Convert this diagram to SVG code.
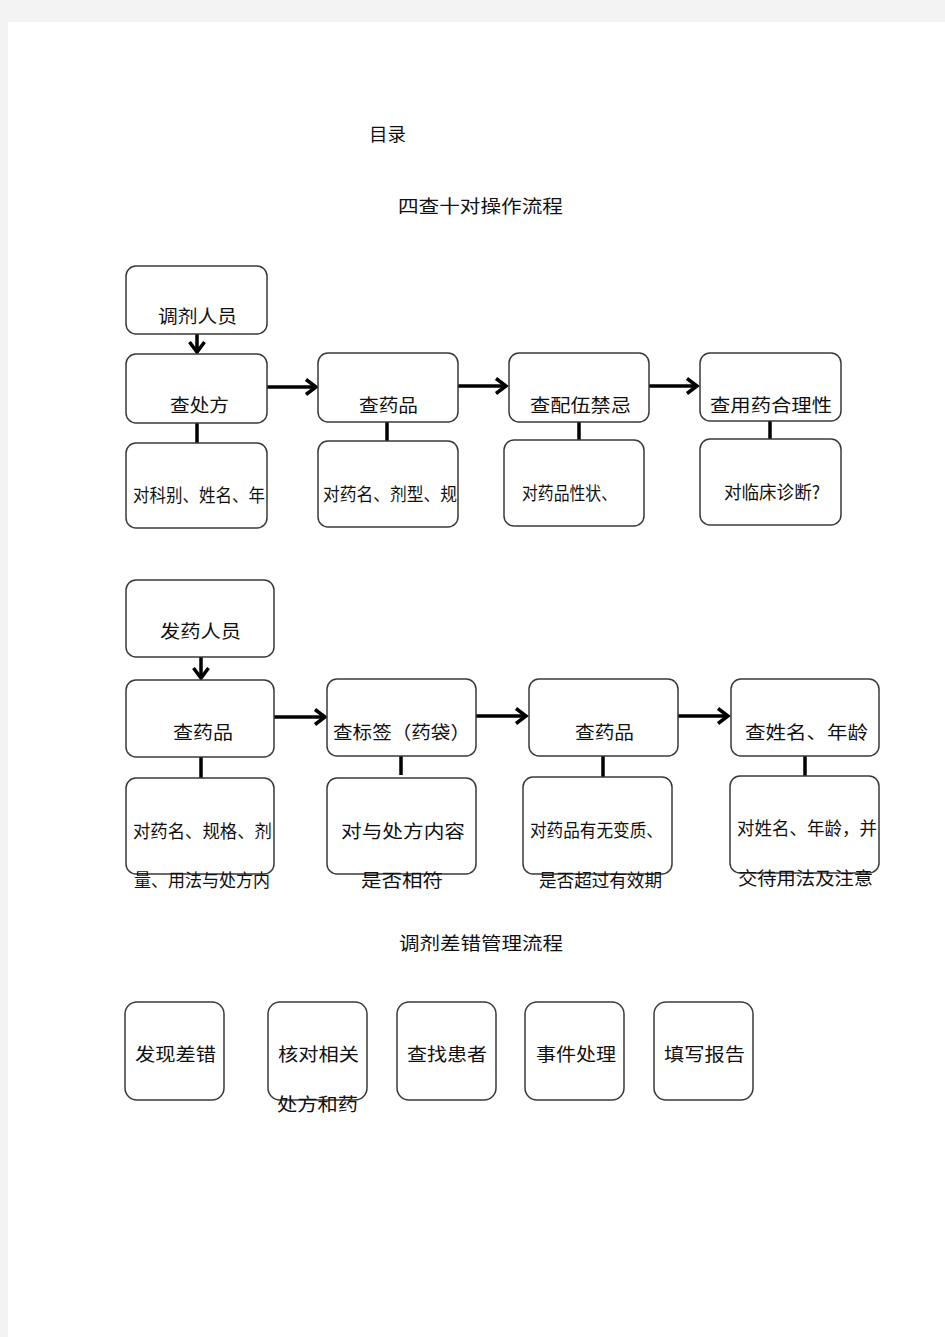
<svg xmlns="http://www.w3.org/2000/svg" width="945" height="1337" viewBox="0 0 945 1337">
<defs>
<style>
.bx{fill:#fff;stroke:#3a3a3a;stroke-width:1.5}
.t{font-family:"Noto Sans CJK SC","Noto Sans",sans-serif;font-size:18px;fill:#111}
.c{stroke:#000;stroke-width:3.5;fill:none}
.a{stroke:#000;stroke-width:3.5;fill:none;marker-end:url(#ah)}
</style>
<marker id="ah" markerUnits="userSpaceOnUse" markerWidth="16" markerHeight="18" refX="12" refY="9" orient="auto">
<path d="M2,1.5 L12,9 L2,16.5" fill="none" stroke="#000" stroke-width="3.5"/>
</marker>
</defs>
<rect x="0" y="0" width="945" height="1337" fill="#f3f3f3"/>
<rect x="8" y="22" width="937" height="1315" fill="#fff"/>

<g id="titles">
<text class="t" x="369" y="141" textLength="37" lengthAdjust="spacingAndGlyphs">目录</text>
<text class="t" x="398" y="213" textLength="165" lengthAdjust="spacingAndGlyphs">四查十对操作流程</text>
<text class="t" x="399" y="950" textLength="164" lengthAdjust="spacingAndGlyphs">调剂差错管理流程</text>
</g>

<g id="connectors">
<path class="a" d="M197,334 V352"/>
<path class="a" d="M267,387 H316"/>
<path class="a" d="M458,386 H506"/>
<path class="a" d="M649,386 H697"/>
<path class="c" d="M197,423 V443"/>
<path class="c" d="M387,421 V441"/>
<path class="c" d="M579,421 V440"/>
<path class="c" d="M770,419 V439"/>
<path class="a" d="M201,657 V678"/>
<path class="a" d="M274,717 H325"/>
<path class="a" d="M476,716 H526"/>
<path class="a" d="M678,716 H728"/>
<path class="c" d="M201,757 V778"/>
<path class="c" d="M401,755 V775"/>
<path class="c" d="M603,756 V777"/>
<path class="c" d="M805,756 V776"/>
</g>

<g id="n1"><rect class="bx" x="126" y="266" width="141" height="68" rx="10"/><text class="t" x="158" y="323" textLength="79" lengthAdjust="spacingAndGlyphs">调剂人员</text></g>
<g id="n2"><rect class="bx" x="126" y="354" width="141" height="69" rx="10"/><text class="t" x="170" y="412" textLength="59" lengthAdjust="spacingAndGlyphs">查处方</text></g>
<g id="n3"><rect class="bx" x="318" y="353" width="140" height="69" rx="10"/><text class="t" x="359" y="412" textLength="59" lengthAdjust="spacingAndGlyphs">查药品</text></g>
<g id="n4"><rect class="bx" x="509" y="353" width="140" height="69" rx="10"/><text class="t" x="530" y="412" textLength="101" lengthAdjust="spacingAndGlyphs">查配伍禁忌</text></g>
<g id="n5"><rect class="bx" x="700" y="353" width="141" height="68" rx="10"/><text class="t" x="710" y="412" textLength="122" lengthAdjust="spacingAndGlyphs">查用药合理性</text></g>
<g id="n6"><rect class="bx" x="126" y="443" width="141" height="85" rx="10"/><text class="t" x="133" y="502" textLength="132" lengthAdjust="spacingAndGlyphs">对科别、姓名、年</text></g>
<g id="n7"><rect class="bx" x="318" y="441" width="140" height="86" rx="10"/><text class="t" x="323" y="501" textLength="134" lengthAdjust="spacingAndGlyphs">对药名、剂型、规</text></g>
<g id="n8"><rect class="bx" x="504" y="440" width="140" height="86" rx="10"/><text class="t" x="522" y="500" textLength="95" lengthAdjust="spacingAndGlyphs">对药品性状、</text></g>
<g id="n9"><rect class="bx" x="700" y="439" width="141" height="86" rx="10"/><text class="t" x="724" y="499" textLength="96" lengthAdjust="spacingAndGlyphs">对临床诊断?</text></g>

<g id="m1"><rect class="bx" x="126" y="580" width="148" height="77" rx="10"/><text class="t" x="160" y="638" textLength="81" lengthAdjust="spacingAndGlyphs">发药人员</text></g>
<g id="m2"><rect class="bx" x="126" y="680" width="148" height="77" rx="10"/><text class="t" x="173" y="739" textLength="60" lengthAdjust="spacingAndGlyphs">查药品</text></g>
<g id="m3"><rect class="bx" x="327" y="679" width="149" height="77" rx="10"/><text class="t" x="333" y="739" textLength="137" lengthAdjust="spacingAndGlyphs">查标签（药袋）</text></g>
<g id="m4"><rect class="bx" x="529" y="679" width="149" height="77" rx="10"/><text class="t" x="575" y="739" textLength="59" lengthAdjust="spacingAndGlyphs">查药品</text></g>
<g id="m5"><rect class="bx" x="731" y="679" width="148" height="77" rx="10"/><text class="t" x="745" y="739" textLength="123" lengthAdjust="spacingAndGlyphs">查姓名、年龄</text></g>
<g id="m6"><rect class="bx" x="126" y="778" width="148" height="96" rx="10"/><text class="t" x="133" y="838" textLength="139" lengthAdjust="spacingAndGlyphs">对药名、规格、剂</text><text class="t" x="134" y="887" textLength="136" lengthAdjust="spacingAndGlyphs">量、用法与处方内</text></g>
<g id="m7"><rect class="bx" x="327" y="778" width="149" height="96" rx="10"/><text class="t" x="341" y="838" textLength="124" lengthAdjust="spacingAndGlyphs">对与处方内容</text><text class="t" x="361" y="887" textLength="82" lengthAdjust="spacingAndGlyphs">是否相符</text></g>
<g id="m8"><rect class="bx" x="523" y="777" width="149" height="97" rx="10"/><text class="t" x="530" y="837" textLength="133" lengthAdjust="spacingAndGlyphs">对药品有无变质、</text><text class="t" x="539" y="887" textLength="123" lengthAdjust="spacingAndGlyphs">是否超过有效期</text></g>
<g id="m9"><rect class="bx" x="730" y="776" width="149" height="97" rx="10"/><text class="t" x="737" y="835" textLength="140" lengthAdjust="spacingAndGlyphs">对姓名、年龄，并</text><text class="t" x="738" y="885" textLength="135" lengthAdjust="spacingAndGlyphs">交待用法及注意</text></g>

<g id="e1"><rect class="bx" x="125" y="1002" width="99" height="98" rx="12"/><text class="t" x="135" y="1061" textLength="81" lengthAdjust="spacingAndGlyphs">发现差错</text></g>
<g id="e2"><rect class="bx" x="268" y="1002" width="99" height="98" rx="12"/><text class="t" x="278" y="1061" textLength="81" lengthAdjust="spacingAndGlyphs">核对相关</text><text class="t" x="277" y="1111" textLength="81" lengthAdjust="spacingAndGlyphs">处方和药</text></g>
<g id="e3"><rect class="bx" x="397" y="1002" width="99" height="98" rx="12"/><text class="t" x="407" y="1061" textLength="80" lengthAdjust="spacingAndGlyphs">查找患者</text></g>
<g id="e4"><rect class="bx" x="525" y="1002" width="99" height="98" rx="12"/><text class="t" x="536" y="1061" textLength="80" lengthAdjust="spacingAndGlyphs">事件处理</text></g>
<g id="e5"><rect class="bx" x="654" y="1002" width="99" height="98" rx="12"/><text class="t" x="664" y="1061" textLength="81" lengthAdjust="spacingAndGlyphs">填写报告</text></g>
</svg>
